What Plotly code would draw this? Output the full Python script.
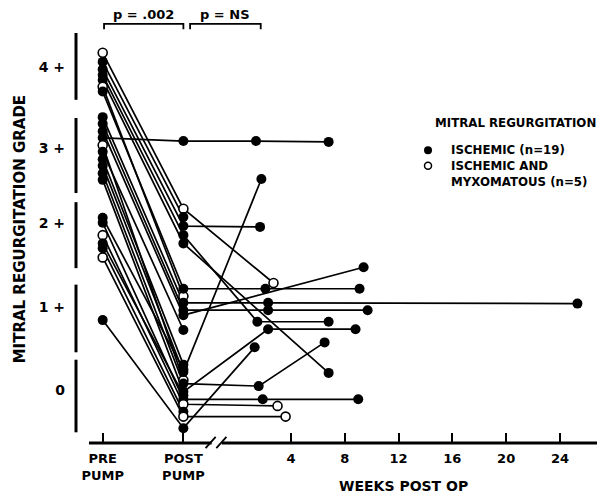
import plotly.graph_objects as go

# ---------------- data (grade scale: 0, 1+, 2+, 3+, 4+) ----------------
pre_grade = [4.16, 4.05, 3.96, 3.89, 3.83, 3.75, 3.69, 3.38, 3.30, 3.21, 3.13, 3.04,
             2.96, 2.87, 2.79, 2.70, 2.62, 2.16, 2.10, 1.95, 1.85, 1.79, 1.68, 0.92]
post_grade = [2.27, 2.17, 2.06, 1.95, 1.85, 1.21, 1.30, 1.13, 1.04, 0.98, 3.09, 0.19,
              0.80, 0.38, 0.29, 0.15, 0.05, 0.32, -0.04, -0.10, 0.01, -0.19, -0.25, -0.39]
fu1_week = [2.7, None, 1.7, 1.5, 6.8, None, 2.1, 2.3, 2.3, 9.4, 1.4, None,
            None, None, 1.8, 1.6, 2.3, None, 1.9, 3.0, None, None, 3.6, 1.3]
fu1_grade = [1.37, None, 2.05, 0.90, 0.28, None, 1.30, 1.13, 1.04, 1.56, 3.09, None,
             None, None, 2.63, 0.12, 0.81, None, -0.04, -0.12, None, None, -0.25, 0.59]
fu2_week = [None, None, None, 6.8, None, None, 9.1, 25.3, 9.7, None, 6.8, None,
            None, None, None, 6.5, 8.8, None, 9.0, None, None, None, None, None]
fu2_grade = [None, None, None, 0.90, None, None, 1.30, 1.12, 1.04, None, 3.08, None,
             None, None, None, 0.65, 0.81, None, -0.04, None, None, None, None, None]
# I = ischemic, M = ischemic and myxomatous
group = ["M", "I", "I", "I", "I", "M", "I", "I", "I", "I", "I", "M",
         "I", "I", "I", "I", "I", "I", "I", "M", "I", "I", "M", "I"]

grade_labels = ["4 +", "3 +", "2 +", "1 +", "0"]
week_ticks = [4, 8, 12, 16, 20, 24]
x_cats = ["PRE<br>PUMP", "POST<br>PUMP"]

# ---------------- axis positions ----------------
PRE_X, POST_X = -10, -4
XR = [-12.58, 27.35]
YR = [-0.5697, 4.6788]
FONT = "DejaVu Sans"

def f(size):
    return dict(family=FONT, size=size, color="black", weight="bold")

fig = go.Figure()

pts = []
for i in range(len(pre_grade)):
    xs = [PRE_X, POST_X]
    ys = [pre_grade[i], post_grade[i]]
    if fu1_week[i] is not None:
        xs.append(fu1_week[i]); ys.append(fu1_grade[i])
    if fu2_week[i] is not None:
        xs.append(fu2_week[i]); ys.append(fu2_grade[i])
    pts.append((xs, ys))
    fig.add_trace(go.Scatter(x=xs, y=ys, mode="lines",
                             line=dict(color="black", width=1.7),
                             showlegend=False, hoverinfo="skip"))

for i, (xs, ys) in enumerate(pts):
    if group[i] == "I":
        mk = dict(color="black", size=10, symbol="circle", line=dict(width=0))
    else:
        mk = dict(color="white", size=9, symbol="circle", line=dict(color="black", width=1.6))
    fig.add_trace(go.Scatter(x=xs, y=ys, mode="markers", marker=mk,
                             showlegend=False, hoverinfo="skip"))

# legend symbols
fig.add_trace(go.Scatter(x=[14.19], y=[2.98], mode="markers",
                         marker=dict(color="black", size=8), showlegend=False))
fig.add_trace(go.Scatter(x=[14.19], y=[2.79], mode="markers",
                         marker=dict(color="white", size=7, line=dict(color="black", width=1.5)),
                         showlegend=False))

shapes = []
# x axis line with break
for a, b in [(-11.02, -1.9), (-1.15, XR[1])]:
    shapes.append(dict(type="line", xref="x", yref="paper", x0=a, x1=b, y0=0, y1=0,
                       line=dict(color="black", width=3)))
for a in [-2.35, -1.55]:
    shapes.append(dict(type="line", xref="x", yref="paper", x0=a, x1=a + 0.75,
                       y0=-0.012, y1=0.014, line=dict(color="black", width=1.8)))
# y axis band bars
for lo, hi in [(3.59, 4.40), (2.46, 3.37), (1.55, 2.35), (0.53, 1.35), (-0.44, 0.44)]:
    shapes.append(dict(type="line", xref="paper", yref="y", x0=0.0149, x1=0.0149,
                       y0=lo, y1=hi, line=dict(color="black", width=3)))
# significance brackets
for a, b in [(-9.9, -4.0), (-3.5, 1.75)]:
    shapes.append(dict(type="path", xref="x", yref="y",
                       path=f"M {a} 4.445 L {a} 4.51 L {b} 4.51 L {b} 4.445",
                       line=dict(color="black", width=1.8)))

annotations = [
    dict(xref="x", yref="y", x=(-9.9 - 4.0) / 2, y=4.63, text="p = .002",
         showarrow=False, font=f(13)),
    dict(xref="x", yref="y", x=(-3.5 + 1.75) / 2, y=4.63, text="p = NS",
         showarrow=False, font=f(13)),
    dict(xref="paper", yref="y", x=-0.0894, xanchor="center", y=2.02,
         text="MITRAL REGURGITATION GRADE", textangle=-90, showarrow=False, font=f(15)),
    dict(xref="x", yref="paper", x=12.33, xanchor="center", y=-0.1, yanchor="middle",
         text="WEEKS POST OP", showarrow=False, font=f(14)),
]
leg = [(14.56, 3.31, "MITRAL REGURGITATION"), (15.75, 2.98, "ISCHEMIC (n=19)"),
       (15.75, 2.79, "ISCHEMIC AND"), (15.75, 2.595, "MYXOMATOUS (n=5)")]
for x, y, t in leg:
    annotations.append(dict(xref="x", yref="y", x=x, y=y, text=t, xanchor="left",
                            yanchor="middle", showarrow=False, font=f(11.8)))

# the page body adds an 8px offset, so the figure is 8px smaller than the window
fig.update_layout(
    width=597, height=489,
    margin=dict(l=60, r=0, t=2, b=54),
    paper_bgcolor="white", plot_bgcolor="white",
    shapes=shapes, annotations=annotations,
    xaxis=dict(range=XR, showgrid=False, zeroline=False, showline=False, automargin=False,
               tickvals=[PRE_X, POST_X] + week_ticks,
               ticktext=x_cats + [str(w) for w in week_ticks],
               ticks="inside", ticklen=10, tickwidth=2, tickcolor="black",
               ticklabelstandoff=6, tickfont=f(13)),
    yaxis=dict(range=YR, showgrid=False, zeroline=False, showline=False, automargin=False,
               tickvals=[3.99, 3.01, 2.10, 1.08, 0.07], ticktext=grade_labels,
               ticks="", ticklabelstandoff=2, tickfont=f(14)),
    showlegend=False,
)

fig.write_html("out.html")
